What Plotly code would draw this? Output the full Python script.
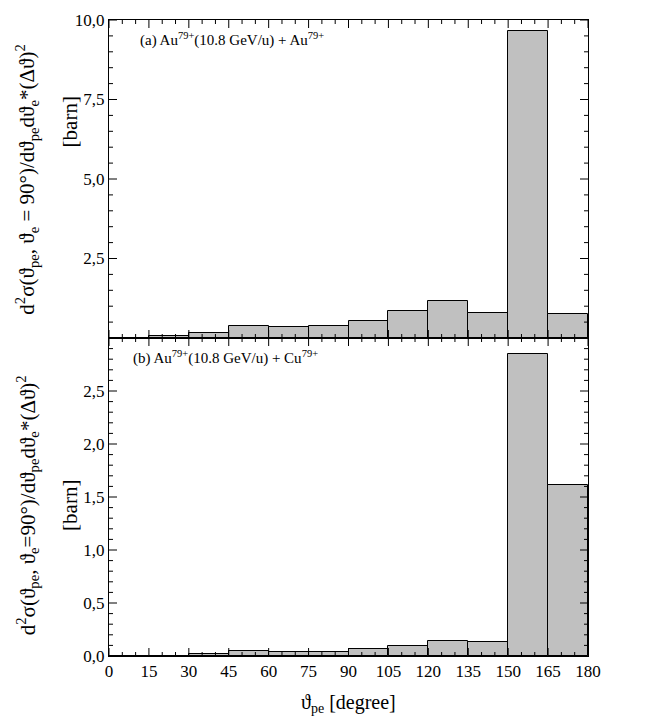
import plotly.graph_objects as go
from plotly.subplots import make_subplots

bin_left = [0, 15, 30, 45, 60, 75, 90, 105, 120, 135, 150, 165]
bin_width = 15
au_au = [0.01, 0.05, 0.145, 0.39, 0.34, 0.38, 0.54, 0.85, 1.16, 0.80, 9.65, 0.745]
au_cu = [0.003, 0.003, 0.022, 0.05, 0.034, 0.04, 0.062, 0.099, 0.145, 0.136, 2.845, 1.617]

x_ticks = [0, 15, 30, 45, 60, 75, 90, 105, 120, 135, 150, 165, 180]
top_yticks = [2.5, 5.0, 7.5, 10.0]
top_ytext = ["2,5", "5,0", "7,5", "10,0"]
bot_yticks = [0.0, 0.5, 1.0, 1.5, 2.0, 2.5]
bot_ytext = ["0,0", "0,5", "1,0", "1,5", "2,0", "2,5"]

FONT = "Liberation Serif"
centers = [b + bin_width / 2 for b in bin_left]

TH = "&#977;"      # vartheta
SIG = "&#963;"     # sigma
DEL = "&#916;"     # Delta
DEG = "&#176;"     # degree

fig = make_subplots(rows=2, cols=1, shared_xaxes=True, vertical_spacing=0)
for row, vals in ((1, au_au), (2, au_cu)):
    fig.add_trace(go.Bar(x=centers, y=vals, width=bin_width,
                         marker=dict(color="#c0c0c0", line=dict(color="black", width=1)),
                         showlegend=False), row=row, col=1)

fig.update_yaxes(range=[0, 10], tickmode="array", tickvals=top_yticks, ticktext=top_ytext,
                 ticks="", showline=True, linecolor="black", mirror=True, row=1, col=1)
fig.update_yaxes(range=[0, 3.0], tickmode="array", tickvals=bot_yticks, ticktext=bot_ytext,
                 ticks="", showline=True, linecolor="black", mirror=True, row=2, col=1)
fig.update_xaxes(range=[0, 180], tickmode="array", tickvals=x_ticks, ticks="",
                 showline=True, linecolor="black", mirror=True)
fig.update_xaxes(showticklabels=False, row=1, col=1)


def frange(start, stop, step):
    out, v = [], start
    while v <= stop + 1e-9:
        out.append(round(v, 6))
        v += step
    return out


shapes = []
tick_line = dict(color="black", width=1)
MAJ, MIN = 8, 4

# x ticks (bottom and top edge of each panel)
x_minor = frange(0, 180, 5)
for xref, ydom in (("x", "y domain"), ("x2", "y2 domain")):
    for v in x_minor:
        L = MAJ if any(abs(v - t) < 1e-6 for t in x_ticks) else MIN
        for anchor, sign in ((0, 1), (1, -1)):
            shapes.append(dict(type="line", xref=xref, yref=ydom, x0=v, x1=v,
                               ysizemode="pixel", yanchor=anchor, y0=0, y1=sign * L,
                               line=tick_line, layer="above"))

# y ticks (left and right edge of each panel)
for yref, xdom, vmax, step, majors in (("y", "x domain", 10.0, 0.5, [0.0] + top_yticks),
                                        ("y2", "x2 domain", 3.0, 0.1, bot_yticks + [3.0])):
    for v in frange(0, vmax, step):
        L = MAJ if any(abs(v - t) < 1e-6 for t in majors) else MIN
        for anchor, sign in ((0, 1), (1, -1)):
            shapes.append(dict(type="line", xref=xdom, yref=yref, y0=v, y1=v,
                               xsizemode="pixel", xanchor=anchor, x0=0, x1=sign * L,
                               line=tick_line, layer="above"))

ytitle = ("d<sup>2</sup>" + SIG + "(" + TH + "<sub>pe</sub>, " + TH + "<sub>e</sub> = 90" + DEG + ")/d"
          + TH + "<sub>pe</sub>d" + TH + "<sub>e</sub>*(" + DEL + TH + ")<sup>2</sup>")
ytitle2 = ("d<sup>2</sup>" + SIG + "(" + TH + "<sub>pe</sub>, " + TH + "<sub>e</sub>=90" + DEG + ")/d"
           + TH + "<sub>pe</sub>d" + TH + "<sub>e</sub>*(" + DEL + TH + ")<sup>2</sup>")

for txt, y in ((ytitle, 0.749), (ytitle2, 0.237)):
    fig.add_annotation(text=txt, xref="paper", yref="paper", x=0, xshift=-82, y=y,
                       textangle=-90, showarrow=False, xanchor="center", yanchor="middle",
                       font=dict(family=FONT, size=21, color="black"))
for y in (0.839, 0.236):
    fig.add_annotation(text="[barn]", xref="paper", yref="paper", x=0, xshift=-39, y=y,
                       textangle=-90, showarrow=False, xanchor="center", yanchor="middle",
                       font=dict(family=FONT, size=21, color="black"))
fig.add_annotation(text="(a) Au<sup>79+</sup>(10.8 GeV/u) + Au<sup>79+</sup>",
                   xref="paper", yref="paper", x=0.0, xshift=29, y=1, yshift=-8,
                   xanchor="left", yanchor="top", showarrow=False,
                   font=dict(family=FONT, size=15, color="black"))
fig.add_annotation(text="(b) Au<sup>79+</sup>(10.8 GeV/u) + Cu<sup>79+</sup>",
                   xref="paper", yref="paper", x=0.0, xshift=22, y=0.5, yshift=-8,
                   xanchor="left", yanchor="top", showarrow=False,
                   font=dict(family=FONT, size=15, color="black"))
fig.add_annotation(text=TH + "<sub>pe</sub> [degree]", xref="paper", yref="paper", x=0.5, y=0,
                   yshift=-47, xanchor="center", yanchor="middle", showarrow=False,
                   font=dict(family=FONT, size=20, color="black"))

fig.update_layout(width=648, height=724, margin=dict(l=109, r=60, t=11, b=68),
                  plot_bgcolor="white", paper_bgcolor="white", bargap=0, shapes=shapes,
                  font=dict(family=FONT, color="black", size=17))

fig.write_html("out.html")
